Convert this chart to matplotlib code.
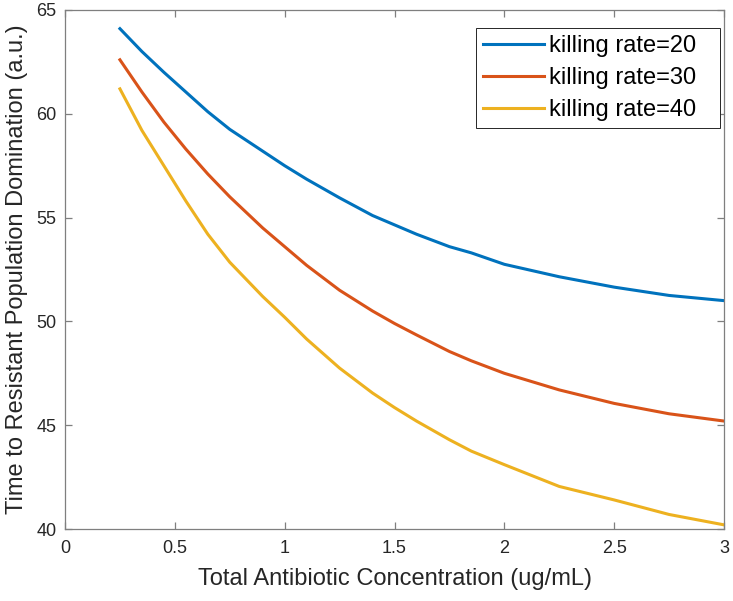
import numpy as np
import matplotlib
matplotlib.use('Agg')
from matplotlib import pyplot as plt

plt.rcParams['font.family'] = ['Liberation Sans', 'DejaVu Sans']

conc = [0.25, 0.35, 0.45, 0.55, 0.65, 0.75, 0.9, 1.0, 1.1, 1.25, 1.4, 1.5, 1.6, 1.75,
        1.85, 2.0, 2.25, 2.5, 2.75, 3.0]
rate20 = [64.1, 63.0, 62.0, 61.05, 60.1, 59.25, 58.2, 57.5, 56.85, 55.95, 55.1, 54.65, 54.2, 53.6,
          53.3, 52.75, 52.15, 51.65, 51.25, 51.0]
rate30 = [62.6, 61.05, 59.6, 58.3, 57.1, 56.0, 54.5, 53.6, 52.7, 51.5, 50.5, 49.9, 49.35, 48.55,
          48.1, 47.5, 46.7, 46.05, 45.55, 45.2]
rate40 = [61.2, 59.2, 57.5, 55.8, 54.2, 52.85, 51.2, 50.2, 49.15, 47.75, 46.55, 45.85, 45.2, 44.3,
          43.75, 43.1, 42.05, 41.4, 40.7, 40.2]
labels = ['killing rate=20', 'killing rate=30', 'killing rate=40']
colors = ['#0072BD', '#D95319', '#EDB120']

fig = plt.figure(figsize=(7.33, 6.01), dpi=100)
ax = fig.add_axes([0.0887, 0.1198, 0.899, 0.8636])

for y, lab, c in zip([rate20, rate30, rate40], labels, colors):
    ax.plot(conc, y, color=c, linewidth=2.2, label=lab)

ax.set_xlim(0, 3)
ax.set_ylim(40, 65)
ax.set_xticks([0, 0.5, 1, 1.5, 2, 2.5, 3])
ax.set_xticklabels(['0', '0.5', '1', '1.5', '2', '2.5', '3'])
ax.set_yticks([40, 45, 50, 55, 60, 65])

axcol = '#262626'
for s in ax.spines.values():
    s.set_color('#7f7f7f')
    s.set_linewidth(0.9)
ax.tick_params(direction='in', top=True, right=True, length=5, width=0.9,
               color='#7f7f7f', labelcolor=axcol, labelsize=13)
ax.tick_params(axis='x', pad=8)
ax.tick_params(axis='y', pad=6)

ax.set_xlabel('Total Antibiotic Concentration (ug/mL)', fontsize=17, color=axcol, labelpad=8)
ax.set_ylabel('Time to Resistant Population Domination (a.u.)', fontsize=17, color=axcol, labelpad=6)

# legend box stretched to the width seen in the reference
leg = ax.legend(loc='upper right', bbox_to_anchor=(0.6237, 0.6, 0.3703, 0.365), mode='expand',
                fontsize=17, fancybox=False, framealpha=1, edgecolor='#262626',
                handlelength=2.6, borderpad=0.3, labelspacing=0.42, handletextpad=0.2,
                borderaxespad=0)
leg.get_frame().set_linewidth(0.7)

fig.savefig('out.png', dpi=100)
